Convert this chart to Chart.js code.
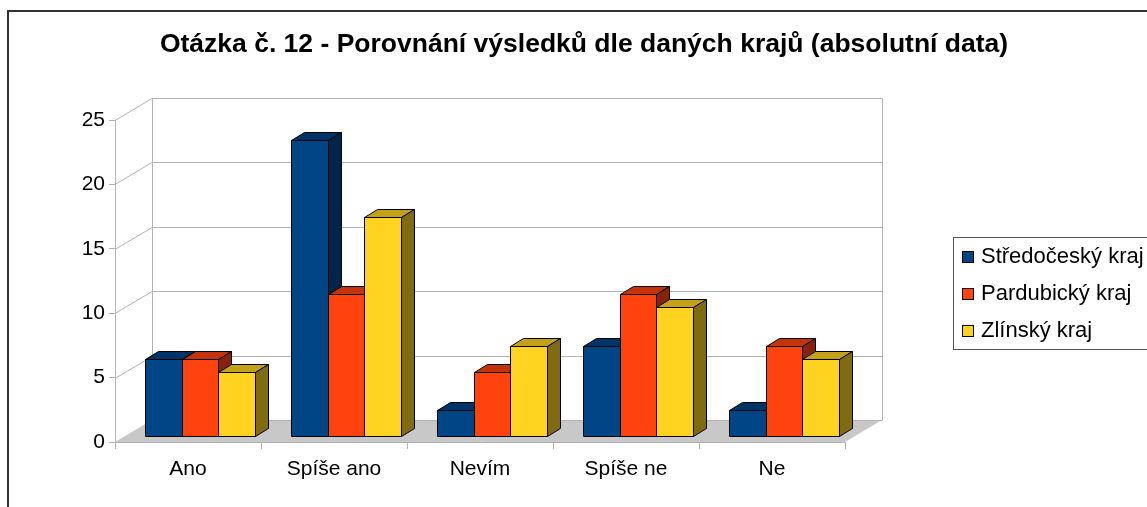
<!DOCTYPE html>
<html>
<head>
<meta charset="utf-8">
<script src="https://cdn.jsdelivr.net/npm/chart.js@4"></script>
<style>
  body { margin: 0; background: #fff; }
  canvas { display: block; }
</style>
</head>
<body>
<canvas id="chart" width="1147" height="507"></canvas>
<script>
const categories = ['Ano', 'Spíše ano', 'Nevím', 'Spíše ne', 'Ne'];
const seriesNames = ['Středočeský kraj', 'Pardubický kraj', 'Zlínský kraj'];
const stredocesky = [6, 23, 2, 7, 2];
const pardubicky = [6, 11, 5, 11, 7];
const zlinsky = [5, 17, 7, 10, 6];
const yMax = 25;
const yStep = 5;
const titleText = 'Otázka č. 12 - Porovnání výsledků dle daných krajů (absolutní data)';

const FONT = '"Liberation Sans", Arial, sans-serif';
const fronts = ['#004586', '#ff420e', '#ffd320'];
const tops = ['#003366', '#c3330c', '#c4a11a'];
const sides = ['#00254a', '#86230a', '#7f6b12'];

// 3D offsets: back wall, bar front face and bar depth
const WALL = { dx: 37, dy: -22 };
const BAR = { dx: 12, dy: -6 };
const DEPTH = { dx: 13, dy: -8 };

const threeD = {
  id: 'threeD',
  beforeDraw(chart) {
    const ctx = chart.ctx;
    ctx.save();
    ctx.strokeStyle = '#333';
    ctx.lineWidth = 2;
    ctx.strokeRect(8, 11, 1300, 700);
    // title
    ctx.fillStyle = '#000';
    ctx.font = 'bold 26.5px ' + FONT;
    ctx.textAlign = 'center';
    ctx.textBaseline = 'middle';
    ctx.fillText(titleText, 584, 45);
    ctx.restore();
  },
  beforeDatasetsDraw(chart) {
    const ctx = chart.ctx;
    const a = chart.chartArea;
    const y = chart.scales.y;
    ctx.save();
    // floor
    ctx.fillStyle = '#c8c8c8';
    ctx.beginPath();
    ctx.moveTo(a.left, a.bottom);
    ctx.lineTo(a.right, a.bottom);
    ctx.lineTo(a.right + WALL.dx, a.bottom + WALL.dy);
    ctx.lineTo(a.left + WALL.dx, a.bottom + WALL.dy);
    ctx.closePath();
    ctx.fill();
    // walls and grid
    ctx.strokeStyle = '#b3b3b3';
    ctx.lineWidth = 1;
    ctx.beginPath();
    y.ticks.forEach(t => {
      const py = Math.round(y.getPixelForValue(t.value)) + 0.5;
      if (t.value > 0) {
        ctx.moveTo(a.left, py);
        ctx.lineTo(a.left + WALL.dx, py + WALL.dy);
      }
      ctx.moveTo(a.left + WALL.dx, py + WALL.dy);
      ctx.lineTo(a.right + WALL.dx, py + WALL.dy);
    });
    const topY = Math.round(y.getPixelForValue(yMax)) + 0.5 + WALL.dy;
    const botY = Math.round(y.getPixelForValue(0)) + 0.5 + WALL.dy;
    ctx.moveTo(a.left + WALL.dx + 0.5, topY);
    ctx.lineTo(a.left + WALL.dx + 0.5, botY);
    ctx.moveTo(a.right + WALL.dx + 0.5, topY);
    ctx.lineTo(a.right + WALL.dx + 0.5, botY);
    ctx.stroke();
    ctx.restore();
  },
  beforeDatasetDraw() {
    return false;
  },
  afterDatasetsDraw(chart) {
    const ctx = chart.ctx;
    const metas = chart.getSortedVisibleDatasetMetas().sort((m1, m2) => m1.index - m2.index);
    ctx.save();
    ctx.strokeStyle = '#000';
    ctx.lineWidth = 1;
    ctx.lineJoin = 'round';
    for (let c = 0; c < categories.length; c++) {
      metas.forEach(meta => {
        const el = meta.data[c];
        const i = meta.index;
        const L = Math.round(el.x - el.width / 2 + BAR.dx) + 0.5;
        const R = Math.round(el.x + el.width / 2 + BAR.dx) + 0.5;
        const T = Math.round(el.y + BAR.dy) + 0.5;
        const B = Math.round(el.base + BAR.dy) + 0.5;
        // front
        ctx.fillStyle = fronts[i];
        ctx.fillRect(L, T, R - L, B - T);
        ctx.strokeRect(L, T, R - L, B - T);
        // top
        ctx.fillStyle = tops[i];
        ctx.beginPath();
        ctx.moveTo(L, T);
        ctx.lineTo(L + DEPTH.dx, T + DEPTH.dy);
        ctx.lineTo(R + DEPTH.dx, T + DEPTH.dy);
        ctx.lineTo(R, T);
        ctx.closePath();
        ctx.fill();
        ctx.stroke();
        // side
        ctx.fillStyle = sides[i];
        ctx.beginPath();
        ctx.moveTo(R, T);
        ctx.lineTo(R + DEPTH.dx, T + DEPTH.dy);
        ctx.lineTo(R + DEPTH.dx, B + DEPTH.dy);
        ctx.lineTo(R, B);
        ctx.closePath();
        ctx.fill();
        ctx.stroke();
      });
    }
    ctx.restore();
  },
  afterDraw(chart) {
    const ctx = chart.ctx;
    ctx.save();
    // legend box
    ctx.strokeStyle = '#555';
    ctx.lineWidth = 1;
    ctx.strokeRect(953.5, 237.5, 300, 112);
    ctx.font = '22px ' + FONT;
    ctx.textBaseline = 'middle';
    ctx.textAlign = 'left';
    chart.data.datasets.forEach((ds, i) => {
      const cy = 257 + i * 37;
      ctx.fillStyle = ds.backgroundColor;
      ctx.fillRect(962.5, cy - 5.5, 11, 11);
      ctx.strokeStyle = '#000';
      ctx.strokeRect(962.5, cy - 5.5, 11, 11);
      ctx.fillStyle = '#000';
      ctx.fillText(ds.label, 981, cy);
    });
    ctx.restore();
  }
};

new Chart(document.getElementById('chart'), {
  type: 'bar',
  data: {
    labels: categories,
    datasets: [
      { label: seriesNames[0], data: stredocesky, backgroundColor: fronts[0] },
      { label: seriesNames[1], data: pardubicky, backgroundColor: fronts[1] },
      { label: seriesNames[2], data: zlinsky, backgroundColor: fronts[2] }
    ]
  },
  options: {
    responsive: false,
    animation: false,
    categoryPercentage: 0.75,
    barPercentage: 1,
    layout: { padding: { left: 0, top: 120, right: 302, bottom: 0 } },
    plugins: {
      legend: { display: false },
      title: { display: false },
      tooltip: { enabled: false }
    },
    scales: {
      x: {
        grid: { drawOnChartArea: false, offset: true, tickLength: 7, color: '#b3b3b3' },
        border: { color: '#b3b3b3' },
        ticks: { color: '#000', font: { family: FONT, size: 21 }, padding: 8 },
        afterFit: scale => { scale.height = 65; }
      },
      y: {
        min: 0,
        max: yMax,
        ticks: { stepSize: yStep, color: '#000', font: { family: FONT, size: 21 }, padding: 4 },
        grid: { drawOnChartArea: false, tickLength: 6, color: '#b3b3b3' },
        border: { color: '#b3b3b3' },
        afterFit: scale => { scale.width = 115; }
      }
    }
  },
  plugins: [threeD]
});
</script>
</body>
</html>
